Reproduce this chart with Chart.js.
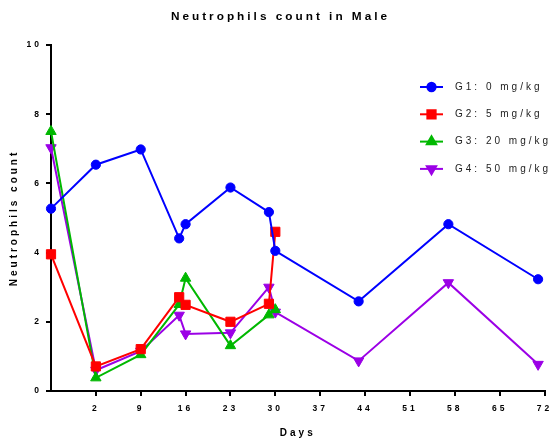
<!DOCTYPE html>
<html>
<head>
<meta charset="utf-8">
<script src="https://cdn.jsdelivr.net/npm/chart.js@4/dist/chart.umd.min.js"></script>
<style>
  html, body { margin: 0; padding: 0; background: #fff; }
  canvas { display: block; }
</style>
</head>
<body>
<canvas id="myChart" width="552" height="439"></canvas>
<script>
// days on study (first point sits on the y axis)
const daysLong = [-5, 2, 9, 15, 16, 23, 29, 30, 43, 57, 71];
const daysShort = [-5, 2, 9, 15, 16, 23, 29, 30];
const dayTicks = [2, 9, 16, 23, 30, 37, 44, 51, 58, 65, 72];

const g1Values = [5.27, 6.54, 6.98, 4.41, 4.82, 5.88, 5.17, 4.05, 2.59, 4.82, 3.23];
const g2Values = [3.95, 0.71, 1.21, 2.71, 2.49, 2.00, 2.52, 4.60];
const g3Values = [7.50, 0.38, 1.05, 2.50, 3.26, 1.31, 2.20, 2.35];
const g4Values = [7.03, 0.60, 1.15, 2.19, 1.65, 1.68, 3.00, 2.28, 0.87, 3.13, 0.77];

const groupNames = ["G1: 0 mg/kg", "G2: 5 mg/kg", "G3: 20 mg/kg", "G4: 50 mg/kg"];

function toPoints(days, values) {
  return days.map((d, i) => ({x: d, y: values[i]}));
}

function series(label, days, values, color, style, radius, rotation) {
  return {
    label: label,
    data: toPoints(days, values),
    borderColor: color,
    backgroundColor: color,
    borderWidth: 2,
    pointStyle: style,
    pointRadius: radius,
    pointRotation: rotation || 0,
    pointBorderWidth: 1,
    tension: 0,
    clip: false
  };
}

const data = {
  datasets: [
    series(groupNames[0], daysLong, g1Values, '#0000FF', 'circle', 4.6),
    series(groupNames[1], daysShort, g2Values, '#FF0000', 'rect', 6.5),
    series(groupNames[2], daysShort, g3Values, '#00B800', 'triangle', 6),
    series(groupNames[3], daysLong, g4Values, '#9B00E6', 'triangle', 6, 180)
  ]
};

// the original spreads every letter out
const spacing = {
  id: 'spacing',
  beforeUpdate(chart) { chart.ctx.letterSpacing = '3px'; },
  beforeDraw(chart) { chart.ctx.letterSpacing = '3px'; },
  afterLayout(chart) {
    if (chart.titleBlock) {
      chart.titleBlock.left += 7;
      chart.titleBlock.right += 7;
    }
  }
};

// legend with line + marker, sitting inside the plot on the right
const sideLegend = {
  id: 'sideLegend',
  afterDraw(chart) {
    const ctx = chart.ctx;
    ctx.save();
    ctx.letterSpacing = '3px';
    chart.data.datasets.forEach((ds, i) => {
      const y = 87 + i * 27.3;
      ctx.strokeStyle = ds.borderColor;
      ctx.lineWidth = 2;
      ctx.beginPath();
      ctx.moveTo(420, y);
      ctx.lineTo(443, y);
      ctx.stroke();
      ctx.fillStyle = ds.backgroundColor;
      Chart.helpers.drawPoint(ctx, {
        pointStyle: ds.pointStyle,
        rotation: ds.pointRotation,
        radius: ds.pointRadius * 0.9,
        borderWidth: 1
      }, 431.5, y);
      ctx.fillStyle = '#222';
      ctx.font = '10px "Liberation Sans", Arial, sans-serif';
      ctx.textAlign = 'left';
      ctx.textBaseline = 'middle';
      ctx.fillText(ds.label, 455, y);
    });
    ctx.restore();
  }
};

const tickFont = {family: '"Liberation Sans", Arial, sans-serif', size: 8.5, weight: 'bold'};
const titleFont = {family: '"Liberation Sans", Arial, sans-serif', size: 10, weight: 'bold'};

const config = {
  type: 'line',
  data: data,
  options: {
    responsive: false,
    animation: false,
    layout: {padding: {left: 0, right: 5, top: 0, bottom: 0}},
    plugins: {
      legend: {display: false},
      tooltip: {enabled: false},
      title: {
        display: true,
        text: 'Neutrophils count in Male',
        color: '#000',
        font: {family: '"Liberation Sans", Arial, sans-serif', size: 11.8, weight: 'bold'},
        padding: {top: 9.5, bottom: 21.3}
      }
    },
    scales: {
      x: {
        type: 'linear',
        min: -5,
        max: 72,
        afterBuildTicks(scale) {
          scale.ticks = dayTicks.map(v => ({value: v}));
        },
        afterFit(scale) {
          scale.height = 48;
          scale.paddingLeft = 0;
          scale.paddingRight = 0;
        },
        ticks: {
          color: '#000',
          font: tickFont,
          padding: 8,
          maxRotation: 0,
          autoSkip: false,
          callback: v => String(v)
        },
        grid: {display: true, drawOnChartArea: false, drawTicks: true, tickLength: 5, color: '#000', lineWidth: 2},
        border: {display: true, color: '#000', width: 2},
        title: {display: true, text: 'Days', color: '#000', font: titleFont, padding: {top: 0, bottom: 0}}
      },
      y: {
        min: 0,
        max: 10,
        afterFit(scale) {
          scale.width = 51;
        },
        ticks: {color: '#000', font: tickFont, stepSize: 2, padding: 4},
        grid: {display: true, drawOnChartArea: false, drawTicks: true, tickLength: 5, color: '#000', lineWidth: 2},
        border: {display: true, color: '#000', width: 2},
        title: {display: true, text: 'Neutrophils count', color: '#000', font: titleFont, padding: {top: 8, bottom: 0}}
      }
    }
  },
  plugins: [spacing, sideLegend]
};

const myChart = new Chart(document.getElementById('myChart'), config);
</script>
</body>
</html>
